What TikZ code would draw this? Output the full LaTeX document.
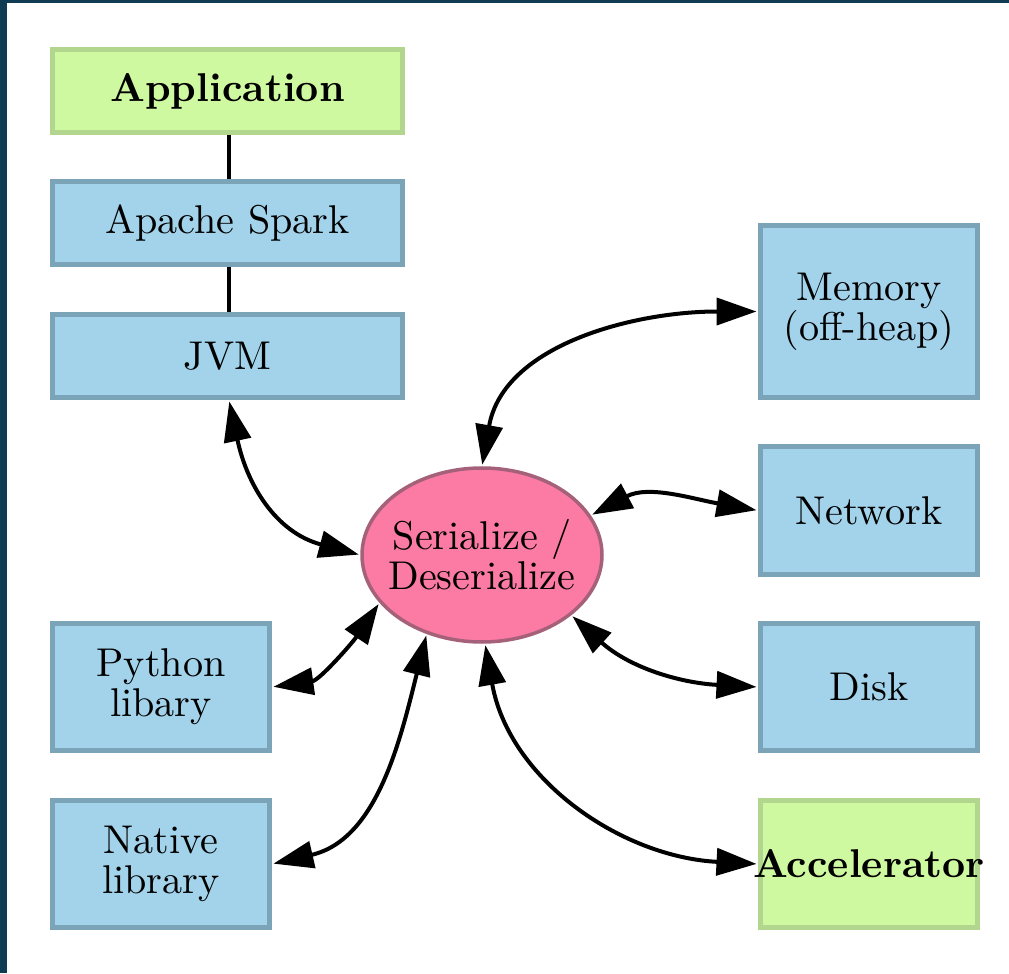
\documentclass[tikz,border=0pt]{standalone}
\usetikzlibrary{arrows.meta,shapes.geometric}
\definecolor{framecol}{HTML}{0F3C52}
\definecolor{greenfill}{HTML}{CFF9A1}
\definecolor{greenline}{HTML}{B2D68E}
\definecolor{bluefill}{HTML}{A2D3EB}
\definecolor{blueline}{HTML}{7BA4B9}
\definecolor{pinkfill}{HTML}{FB7BA4}
\definecolor{pinkline}{HTML}{A5617A}
\def\pxu{0.244pt}
\tikzset{
  x=\pxu, y=\pxu,
  box/.style={rectangle, draw=blueline, fill=bluefill, line width=5*\pxu,
    align=center, inner sep=0pt, font=\fontsize{9.8}{9.8}\selectfont},
  greenbox/.style={box, draw=greenline, fill=greenfill, font=\fontsize{9.8}{9.8}\selectfont\bfseries},
  wide/.style={minimum width=350*\pxu, minimum height=83*\pxu},
  narrow/.style={minimum width=217*\pxu, minimum height=127*\pxu},
  hub/.style={ellipse, draw=pinkline, fill=pinkfill, line width=3.5*\pxu,
    minimum width=240*\pxu, minimum height=174*\pxu, inner sep=-11*\pxu,
    align=center, font=\fontsize{9.8}{9.8}\selectfont},
  link/.style={line width=4*\pxu},
  flow/.style={line width=4*\pxu,
    {Triangle[length=40*\pxu,width=27*\pxu]}-{Triangle[length=40*\pxu,width=27*\pxu]},
    shorten <=1.5*\pxu, shorten >=1.5*\pxu}
}
\begin{document}
\begin{tikzpicture}
  % canvas and frame strips
  \useasboundingbox (0,0) rectangle (1009,973);
  \fill[white] (0,0) rectangle (1009,973);
  \fill[framecol] (0,0) rectangle (7,973);
  \fill[framecol] (0,970) rectangle (1009,973);

  % software stack
  \node[greenbox, wide] (app) at (227.5,882) {Application};
  \node[box, wide] (spark) at (227.5,749.5) {Apache Spark};
  \node[box, wide] (jvm) at (227.5,617) {JVM};

  % storage and devices
  \node[box, narrow, minimum height=172*\pxu] (mem) at (869,661.5) {Memory\\(off-heap)};
  \node[box, narrow] (net) at (869,462.5) {Network};
  \node[box, narrow] (disk) at (869,286) {Disk};
  \node[greenbox, narrow] (acc) at (869,109) {\makebox[40pt][c]{Accelerator}};

  % other language bindings
  \node[box, narrow] (py) at (161,286) {Python\\libary};
  \node[box, narrow] (nat) at (161,109) {Native\\library};

  % central serialization step
  \node[hub] (ser) at (482,418) {Serialize /\\Deserialize};

  % stack links
  \draw[link] ([xshift=1.5*\pxu]app.south) -- ([xshift=1.5*\pxu]spark.north);
  \draw[link] ([xshift=1.5*\pxu]spark.south) -- ([xshift=1.5*\pxu]jvm.north);

  % data flows
  \draw[flow] ([xshift=1.5*\pxu]jvm.south) to[out=-78, in=165, looseness=1.1] (ser.west);
  \draw[flow] (ser.north) to[out=80, in=180] (mem.west);
  \draw[flow] (ser.20) to[out=28, in=170] (net.west);
  \draw[flow] (ser.-34) to[out=-42, in=177] (disk.west);
  \draw[flow] (ser.-88) to[out=-80, in=177] (acc.west);
  \draw[flow] (ser.205) to[out=236, in=8, looseness=0.9] (py.east);
  \draw[flow] (ser.235) to[out=256, in=13] (nat.east);
\end{tikzpicture}
\end{document}
